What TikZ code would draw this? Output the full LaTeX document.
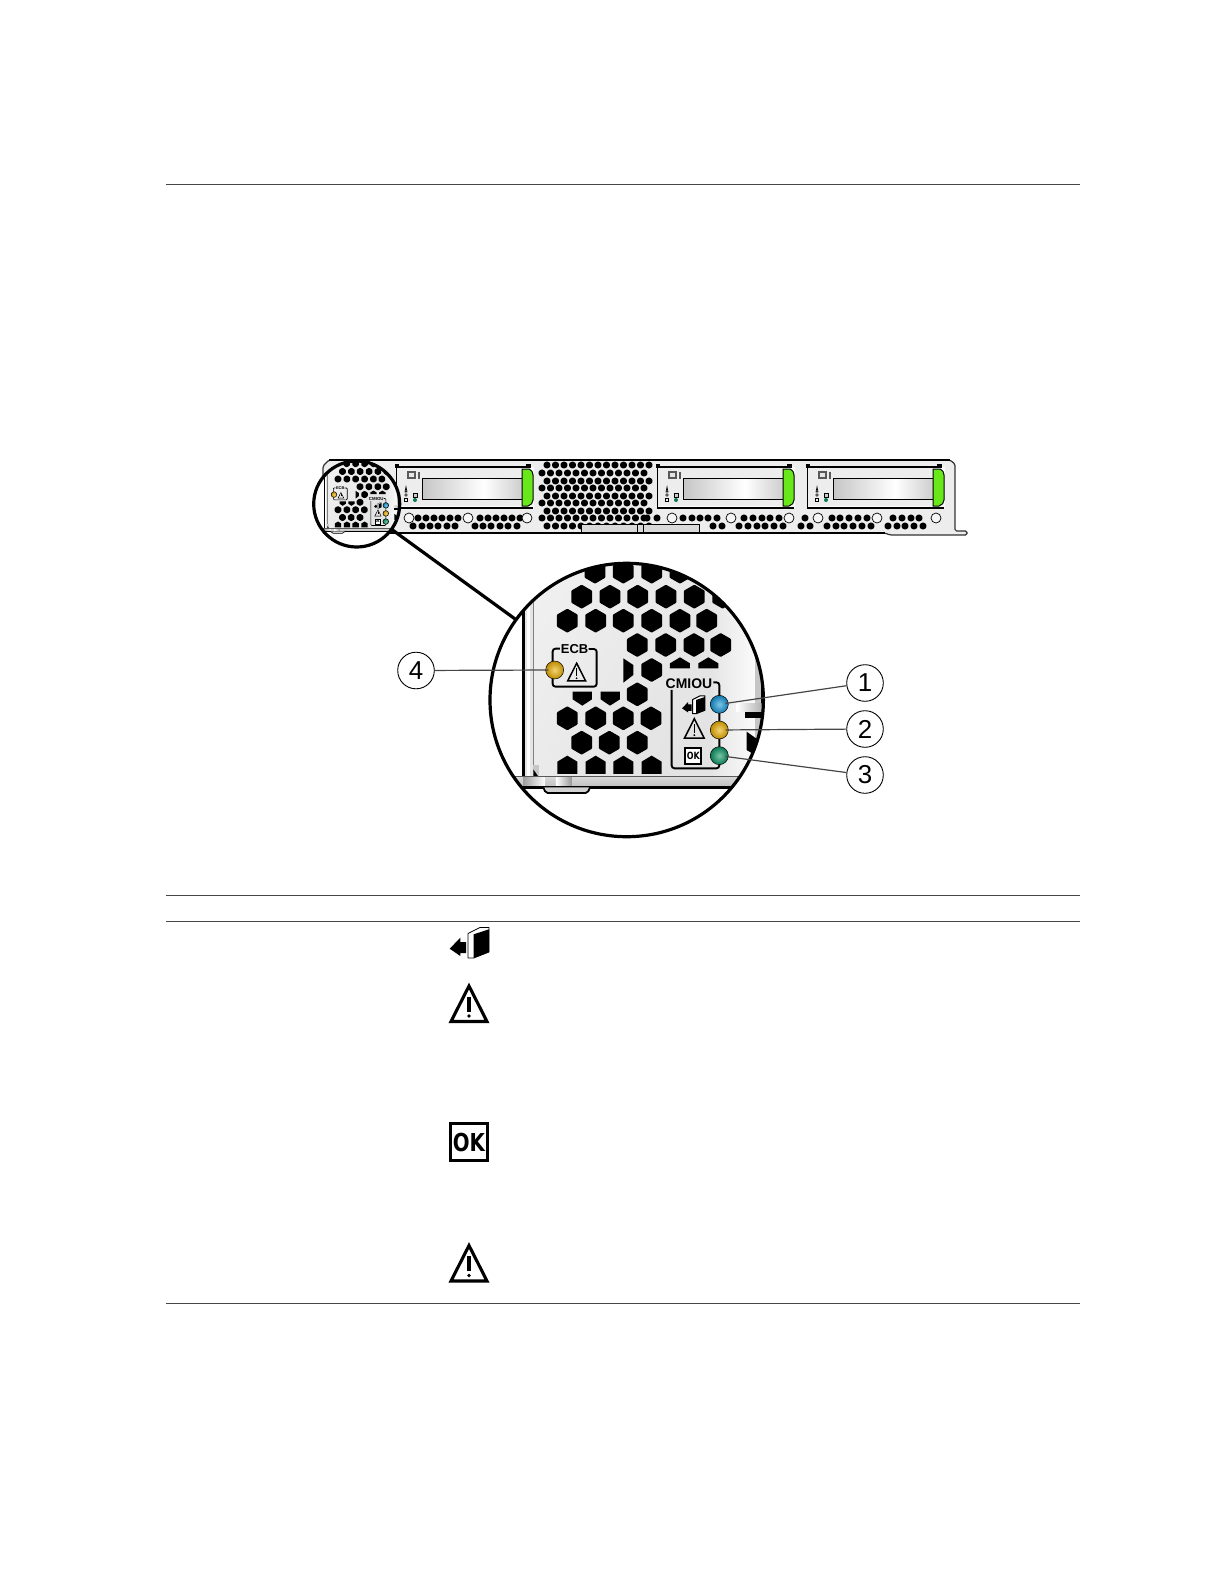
\documentclass[tikz,border=0pt]{standalone}
\usepackage{graphicx}
\usepackage{fontspec}
\setmainfont{Liberation Sans}
\newfontfamily\okfont{DejaVu Sans}
\definecolor{ledblue}{RGB}{20,150,215}
\definecolor{ledamber}{RGB}{235,175,0}
\definecolor{ledgreen}{RGB}{10,150,100}
\definecolor{bayled}{RGB}{10,120,85}
\definecolor{handlegreen}{RGB}{104,232,26}
\definecolor{rulegray}{RGB}{70,70,70}
\tikzset{
  rulel/.style={draw=rulegray,line width=.45bp},
  chassis/.style={draw=black!80,line width=.6bp,fill=gray!14},
  callout/.style={circle,draw=black,line width=.45bp,minimum size=18.3bp,inner sep=0pt,font=\fontsize{13}{13}\selectfont},
  leader/.style={draw=rulegray,line width=.6bp},
  lens/.style={circle,draw=black,line width=1.6bp,inner sep=0pt,outer sep=0pt},
  ledball/.style={circle,inner sep=0pt,minimum size=9bp*\dz,draw=black,line width=.25bp,shade,shading=radial,inner color=#1!55!white,outer color=#1!80!black},
  holes/.style={fill=black,rounded corners=.4bp},
}
% hexagonal hole, zoom units
\newcommand\hexat[3]{\path[holes] (#1,#2) +(0,-#3) -- +(.866*#3,-.5*#3) -- +(.866*#3,.5*#3) -- +(0,#3) -- +(-.866*#3,.5*#3) -- +(-.866*#3,-.5*#3) -- cycle;}
\newcommand\warnsign[4]{\begin{scope}[shift={(#1,#2)},scale=#3]
  \draw[line width=#4,line join=miter] (0,-17.5) -- (18,18) -- (-18,18) -- cycle;
  \draw[line width=#4] (0,-7) -- (0,8);
  \fill (0,12.5) circle (1.9);
\end{scope}}
\newcommand\oksign[5]{\begin{scope}[shift={(#1,#2)},scale=#3]
  \draw[line width=#4,fill=white] (-18.5,-18.5) rectangle (18.5,18.5);
\end{scope}
\node[inner sep=0pt,font=\okfont\bfseries\fontsize{#5}{#5}\selectfont] at (#1,#2) {\scalebox{.8}[1]{OK}};}
\newcommand\booksign[4]{\begin{scope}[shift={(#1,#2)},scale=#3]
  \fill (-19.3,5.7) -- (-8.7,-5.3) -- (-8.7,-1) -- (-3,-1) -- (-3,10) -- (-8.7,10) -- (-8.7,13) -- cycle;
  \draw[line width=#4,fill=white,line join=round] (-1,-9.5) -- (11,-15.5) -- (20,-15.5) -- (20,9) -- (4.7,15) -- (-1,15) -- cycle;
  \fill (4.7,-8.7) -- (20,-13.7) -- (20,9) -- (4.7,15) -- cycle;
\end{scope}}
% one drive bay, x is its left edge
\newcommand\drivebay[1]{\begin{scope}[shift={(#1,0)}]
  \fill[gray!4] (0,467) rectangle (138,508);
  \path[fill=gray!14] (0,468) rectangle (126,506);
  \draw[line width=.8bp] (0,467) -- (134,467);
  \draw[line width=.8bp] (0,508) -- (137,508);
  \draw[line width=.35bp] (0,467) -- (0,508);
  \fill (-1,464) rectangle (3,468);
  \fill (130,464) rectangle (135,468);
  \shade[left color=gray!45,right color=white] (26,478) rectangle (88,499);
  \shade[left color=white,right color=gray!40] (88,478) rectangle (127,499);
  \draw[line width=.4bp] (26,478) rectangle (127,499);
  \fill[gray!70!black] (11,471) rectangle (20,479);
  \fill[gray!20] (13,473) rectangle (18,477);
  \fill[gray!70!black] (22,472) rectangle (24,479);
  \draw[line width=.35bp] (10,487) -- (9,492) -- (11,492) -- cycle;
  \fill[gray!70!black] (10,495) circle (1.9);
  \draw[line width=.3bp] (8.5,498) rectangle (11.5,501);
  \draw[line width=.4bp,fill=gray!40] (17,493) rectangle (21,497);
  \fill[bayled] (19,500) circle (2);
  \path[draw=black,line width=.5bp,fill=handlegreen] (126,469) -- (133,469) .. controls (136,471) and (137,472) .. (137,475) -- (137,500) .. controls (137,503) and (135,505) .. (132,506) -- (126,506) -- cycle;
\end{scope}}
% corner of the plate with the leds, zoom units
\newcommand\cornerdetail[3]{\begin{scope}[shift={(#1,#2)},scale=#3]
  \begin{scope}
  \clip (440,450) circle (410);
  \fill[white] (0,0) rectangle (900,900);
  \shade[left color=gray!12,right color=gray!22,shading angle=60] (130,0) rectangle (700,680);
  \shade[left color=gray!20,right color=gray!3] (699,0) rectangle (826,680);
  \fill[white!80!gray] (130,0) rectangle (158,680);
  \fill[white] (140,0) rectangle (150,680);
  \draw[line width=1.2bp*\dz] (130,0) -- (130,680);
  \draw[line width=.3bp*\dz,gray] (160,0) -- (160,680);
  \fill[gray!45] (826,250) rectangle (846,680);
  \draw[line width=.9bp*\dz] (846,250) -- (846,680);
  \shade[left color=white,right color=gray!60] (770,460) rectangle (845,485);
  \fill (795,485) rectangle (842,505);
  \fill (800,545) -- (835,570) -- (825,615) -- (800,600) -- cycle;
  \foreach \hx in {345,430,515,600,690} {\hexat{\hx}{65}{36}}
  \foreach \hx in {305,390,473,558,643,728} {\hexat{\hx}{140}{36}}
  \foreach \hx in {262,347,430,515,600,680} {\hexat{\hx}{212}{36}}
  \foreach \hx in {472,557,642,722} {\hexat{\hx}{285}{36}}
  \hexat{515}{360}{36}
  \fill (430,325) -- (460,345) -- (460,375) -- (430,398) -- cycle;
  \fill (570,355) -- (570,340) -- (600,322) -- (630,340) -- (630,355) -- cycle;
  \fill (655,355) -- (655,340) -- (685,322) -- (715,340) -- (715,355) -- cycle;
  \fill (278,425) -- (336,425) -- (336,448) -- (307,467) -- (278,448) -- cycle;
  \fill (362,425) -- (420,425) -- (420,448) -- (390,467) -- (362,448) -- cycle;
  \hexat{472}{433}{36}
  \foreach \hx in {262,347,430,513} {\hexat{\hx}{505}{36}}
  \foreach \hx in {305,388,472} {\hexat{\hx}{578}{36}}
  \foreach \hx in {262,347,430,515} {\fill (\hx-30,672) -- (\hx-30,635) -- (\hx,617) -- (\hx+30,635) -- (\hx+30,672) -- cycle;}
  \fill[gray!45] (160,645) -- (178,645) -- (178,680) -- (160,680) -- cycle;
  \fill (160,658) -- (175,680) -- (160,680) -- cycle;
  \shade[top color=gray!30,bottom color=gray!50] (100,680) rectangle (830,712);
  \shade[left color=gray!75,right color=white] (130,680) rectangle (195,712);
  \shade[left color=white,right color=gray!80] (228,680) rectangle (275,712);
  \draw[line width=.35bp*\dz,gray!70!black] (100,680) -- (830,680);
  \draw[line width=1.3bp*\dz] (100,712) -- (830,712);
  \draw[line width=.9bp*\dz,fill=gray!35,rounded corners=1bp] (190,712) -- (197,729) -- (323,729) -- (330,712);
  \end{scope}
  \path[draw=black,line width=.95bp*\dz,rounded corners=1.4bp*\dz] (240,296) -- (218,296) -- (218,410) -- (350,410) -- (350,297) -- (326,297);
  \node[inner sep=0pt,font=\bfseries\fontsize{\ecbsize}{\ecbsize}\selectfont] (ecb) at (284,298) {ECB};
  \warnsign{290}{366}{1.5}{.75bp*\dz}
  \path[draw=black,line width=.95bp*\dz,rounded corners=1.4bp*\dz] (575,420) -- (575,655) -- (718,655) -- (718,397) -- (700,397);
  \node[inner sep=0pt,font=\bfseries\fontsize{\cmiousize}{\cmiousize}\selectfont] (cmiou) at (627,400) {CMIOU};
  \booksign{640}{465}{1.75}{.5bp*\dz}
  \warnsign{643}{535}{1.65}{.75bp*\dz}
  \oksign{640}{617}{1.3}{.9bp*\dz}{\oksize}
  \node[ledball=ledamber] (ledecb) at (224,360) {};
  \node[ledball=ledblue] (ledrun) at (718,463) {};
  \node[ledball=ledamber] (ledwarn) at (718,540) {};
  \node[ledball=ledgreen] (ledok) at (718,617) {};
\end{scope}}
\begin{document}
\begin{tikzpicture}[x=.5bp,y=-.5bp]
\useasboundingbox (0,0) rectangle (1224,1584);
% page rules
\draw[rulel] (166,184.5) -- (1080,184.5);
\draw[rulel] (166,895) -- (1080,895);
\draw[rulel] (166,921) -- (1080,921);
\draw[rulel] (166,1303) -- (1080,1303);
% blade front
\draw[chassis,rounded corners=.8bp] (323,533) -- (323,466) -- (329,460) -- (950,460) -- (955,464) -- (955,531) -- (967,531) -- (967,535) -- (890,535) -- (885,533) -- cycle;
\draw[line width=1.1bp] (329,460) -- (950,460);
\draw[line width=1.1bp] (323,533) -- (885,533);
\foreach \bx in {396,657,807} {\drivebay{\bx}}
\foreach \hy/\hs in {465/547,481/547,496/547,511/547,526/547,473/542,488/542,503/542,518/542} {
  \foreach \hi in {0,...,12} {
    \pgfmathsetmacro\hx{\hs+8.5*\hi}
    \ifdim\hx pt<652pt \hexat{\hx}{\hy}{3.8}\fi
  }
}
\foreach \hx in {418,426,434,442,450,458,480,488,496,504,512,520,647,657,683,692,700,708,717,744,753,762,770,779,805,832,840,849,858,867,893,902,911,919} {\hexat{\hx}{518}{3.8}}
\foreach \hx in {413,422,430,438,447,455,475,483,491,500,508,517,713,722,739,748,757,765,774,783,801,810,827,836,844,853,862,871,888,897,905,914,923} {\hexat{\hx}{526}{3.8}}
\foreach \cx in {409,468,527,672,731,789,818,877,936} {\draw[line width=.35bp,fill=gray!8] (\cx,518) circle (5);}
% latch
\draw[line width=.45bp,fill=gray!30] (581,532) -- (581,524) -- (699,524) -- (699,532) -- cycle;
\draw[line width=.45bp] (637,524) -- (637,532) (643,524) -- (643,532);
\draw[line width=1.1bp] (575,533) -- (704,533);
% small circle first so that the big one keeps the led names
\def\dz{.3146}\def\ecbsize{2}\def\cmiousize{2.2}\def\oksize{1.6}
\cornerdetail{310.5}{456.8}{.1049}
\def\dz{1}\def\ecbsize{6.5}\def\cmiousize{7}\def\oksize{5}
\cornerdetail{480}{550}{.3333}
\node[lens,minimum size=43bp] (lenssmall) at (356.7,504) {};
\node[lens,minimum size=136.7bp] (lensbig) at (626.7,700) {};
\draw[line width=1.6bp] (lenssmall) -- (lensbig);
% callouts
\node[callout] (numone) at (865,683) {1};
\node[callout] (numtwo) at (865,729) {2};
\node[callout] (numthree) at (865,775) {3};
\node[callout] (numfour) at (416,670.5) {4};
\draw[leader,shorten >=-1.5bp] (numone) -- (ledrun);
\draw[leader,shorten >=-1.5bp] (numtwo) -- (ledwarn);
\draw[leader,shorten >=-1.5bp] (numthree) -- (ledok);
\draw[leader,shorten >=-1.5bp] (numfour) -- (ledecb);
% table icons
\booksign{469}{943}{1}{.4bp}
\warnsign{469}{1003.5}{1}{1.55bp}
\oksign{469}{1142}{1}{1.9bp}{12.4}
\warnsign{469}{1263}{1}{1.55bp}
\end{tikzpicture}
\end{document}
